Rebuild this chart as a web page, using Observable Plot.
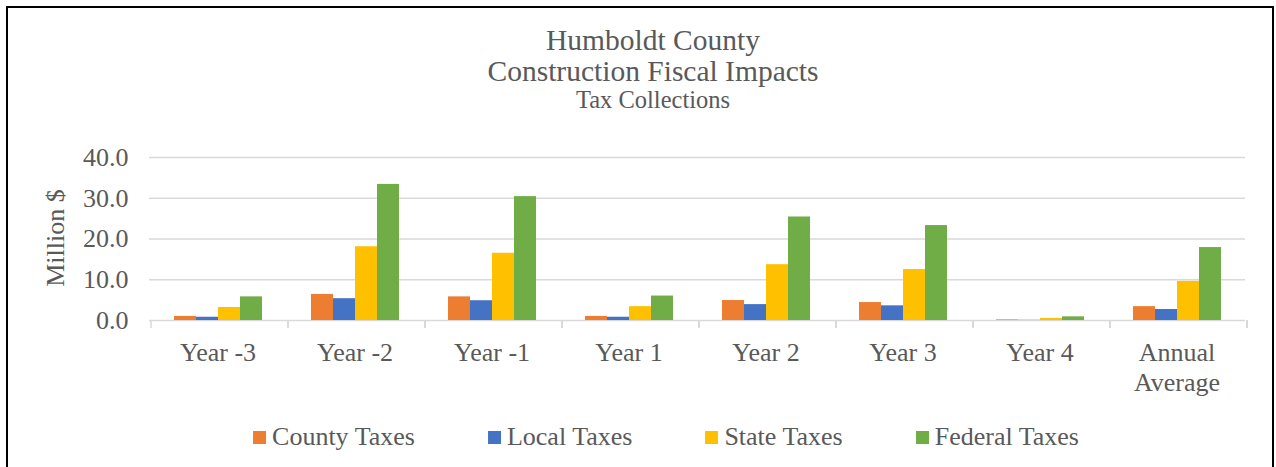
<!DOCTYPE html>
<html>
<head>
<meta charset="utf-8">
<script src="https://cdn.jsdelivr.net/npm/d3@7"></script>
<script src="https://cdn.jsdelivr.net/npm/@observablehq/plot@0.6"></script>
<style>
  body { margin: 0; background: #fff; }
  #wrap { position: relative; width: 1276px; height: 467px; overflow: hidden; background: #fff;
          font-family: "Liberation Serif", "Times New Roman", serif; color: #595959; }
  #frame { position: absolute; left: 6px; top: 6px; width: 1268px; height: 520px; border: 2px solid #000; box-sizing: border-box; }
  .t { position: absolute; left: 653px; transform: translateX(-50%); white-space: nowrap; line-height: 1; }
  #chart { position: absolute; left: 0; top: 0; }
  #ylab { position: absolute; left: 56px; top: 237.5px; transform: translate(-50%, -50%) rotate(-90deg);
          font-size: 26px; line-height: 1; white-space: nowrap; }
  #legend { position: absolute; left: 666px; top: 424px; transform: translateX(-50%); display: flex; gap: 73px;
            font-size: 26px; line-height: 1; white-space: nowrap; }
  .sw { display: inline-block; width: 13px; height: 13px; margin-right: 6px; vertical-align: 1px; }
</style>
</head>
<body>
<div id="wrap">
  <div id="frame"></div>
  <div id="chart"></div>
  <div class="t" id="t1" style="top:26px;font-size:29.5px;"></div>
  <div class="t" id="t2" style="top:57px;font-size:29.5px;"></div>
  <div class="t" id="t3" style="top:88px;font-size:24.5px;"></div>
  <div id="ylab"></div>
  <div id="legend"></div>
</div>
<script>
// ---- data ----
const titleLines = ["Humboldt County", "Construction Fiscal Impacts", "Tax Collections"];
const yLabel = "Million $";
const categories = ["Year -3", "Year -2", "Year -1", "Year 1", "Year 2", "Year 3", "Year 4", "Annual Average"];
const series = ["County Taxes", "Local Taxes", "State Taxes", "Federal Taxes"];
const colors = ["#ED7D31", "#4472C4", "#FFC000", "#70AD47"];
const countyTaxes  = [1.0, 6.4, 5.8, 1.0, 4.9, 4.4, 0.15, 3.4];
const localTaxes   = [0.8, 5.35, 4.85, 0.8, 3.9, 3.6, 0.05, 2.7];
const stateTaxes   = [3.2, 18.1, 16.5, 3.4, 13.7, 12.5, 0.5, 9.6];
const federalTaxes = [5.8, 33.4, 30.4, 6.0, 25.4, 23.3, 0.9, 17.9];
const yTicks = [0, 10, 20, 30, 40];

const seriesValues = [countyTaxes, localTaxes, stateTaxes, federalTaxes];
const data = [];
categories.forEach((c, i) => series.forEach((s, j) => data.push({cat: c, series: s, value: seriesValues[j][i]})));

document.getElementById("t1").textContent = titleLines[0];
document.getElementById("t2").textContent = titleLines[1];
document.getElementById("t3").textContent = titleLines[2];
document.getElementById("ylab").textContent = yLabel;

const legend = document.getElementById("legend");
series.forEach((s, j) => {
  const item = document.createElement("span");
  const sw = document.createElement("span");
  sw.className = "sw";
  sw.style.background = colors[j];
  item.appendChild(sw);
  item.appendChild(document.createTextNode(s));
  legend.appendChild(item);
});

const gridColor = "#d9d9d9";

const chart = Plot.plot({
  width: 1276,
  height: 467,
  marginLeft: 147,
  marginRight: 29,
  marginTop: 157,
  marginBottom: 147,
  style: {fontFamily: "'Liberation Serif', 'Times New Roman', serif", fontSize: "26px", color: "#595959", background: "transparent", overflow: "visible"},
  fx: {domain: categories, padding: 0, label: null},
  x: {domain: series, paddingInner: 0, paddingOuter: 1.1, axis: null},
  y: {domain: [0, 40], label: null},
  color: {domain: series, range: colors},
  marks: [
    Plot.ruleY(yTicks, {stroke: gridColor, strokeWidth: 1.5}),
    Plot.axisY(yTicks, {tickFormat: d3.format(".1f"), tickSize: 0, tickPadding: 21, label: null, fontSize: 26}),
    Plot.barY(data, {fx: "cat", x: "series", y: "value", fill: "series"}),
    Plot.axisFx({anchor: "bottom", tickSize: 0, tickPadding: 19, label: null, fontSize: 26, lineHeight: 1.15,
                 tickFormat: d => d.replace("Annual ", "Annual\n")}),
    (index, scales) => {
      const fx = scales.fx, y = scales.y;
      const bw = fx.bandwidth();
      const y0 = y(0);
      const xs = categories.map(c => fx(c)).concat([fx(categories[categories.length - 1]) + bw]);
      const g = d3.create("svg:g").attr("stroke", gridColor).attr("stroke-width", 1.5);
      g.selectAll("line").data(xs).join("line")
        .attr("x1", d => d).attr("x2", d => d).attr("y1", y0).attr("y2", y0 + 8);
      return g.node();
    }
  ]
});
document.getElementById("chart").appendChild(chart);
</script>
</body>
</html>
